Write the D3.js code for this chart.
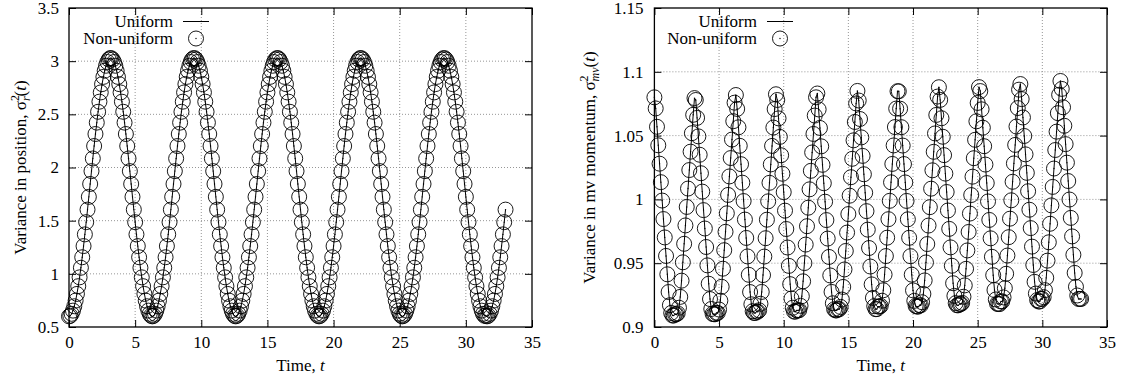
<!DOCTYPE html>
<html><head><meta charset="utf-8">
<script src="https://cdn.jsdelivr.net/npm/d3@7"></script>
<style>
html,body{margin:0;padding:0;background:#fff;}
svg, svg text{font-family:'Liberation Serif','DejaVu Serif',serif;}
</style></head><body>
<svg id="chart" width="1123" height="388"></svg>
<script>
// sampling grid of the simulation output (time step 0.1, t = 0 .. 33)
const timeStep = 0.1;
const nSamples = 331;
const time = d3.range(nSamples).map(i => +(i * timeStep).toFixed(1));

const xTicks = [0, 5, 10, 15, 20, 25, 30, 35];
const posTicks = [0.5, 1, 1.5, 2, 2.5, 3, 3.5];
const momTicks = [0.9, 0.95, 1, 1.05, 1.1, 1.15];
const seriesNames = ["Uniform", "Non-uniform"];

// Variance in position
const posUniform = [
0.600,0.606,0.624,0.654,0.695,0.748,0.811,0.884,0.967,1.057,1.156,1.261,1.371,1.486,1.604,1.724,1.845,1.966,2.085,2.202,2.315,2.422,2.524,2.619,2.706,2.784,2.852,2.910,2.957,2.992,3.016,3.028,3.028,3.016,2.992,2.957,2.910,2.852,2.784,2.706,2.619,2.524,2.422,2.315,2.202,2.085,1.966,1.845,1.724,1.604,1.486,1.371,1.261,1.156,1.057,0.967,0.884,0.811,0.748,0.695,0.654,0.624,0.606,
0.600,0.606,0.624,0.654,0.695,0.748,0.811,0.884,0.967,1.057,1.156,1.261,1.371,1.486,1.604,1.724,1.845,1.966,2.085,2.202,2.315,2.422,2.524,2.619,2.706,2.784,2.852,2.910,2.957,2.992,3.016,3.028,3.028,3.016,2.992,2.957,2.910,2.852,2.784,2.706,2.619,2.524,2.422,2.315,2.202,2.085,1.966,1.845,1.724,1.604,1.486,1.371,1.261,1.156,1.057,0.967,0.884,0.811,0.748,0.695,0.654,0.624,0.606,
0.600,0.606,0.624,0.654,0.695,0.748,0.811,0.884,0.967,1.057,1.156,1.261,1.371,1.486,1.604,1.724,1.845,1.966,2.085,2.202,2.315,2.422,2.524,2.619,2.706,2.784,2.852,2.910,2.957,2.992,3.016,3.028,3.028,3.016,2.992,2.957,2.910,2.852,2.784,2.706,2.619,2.524,2.422,2.315,2.202,2.085,1.966,1.845,1.724,1.604,1.486,1.371,1.261,1.156,1.057,0.967,0.884,0.811,0.748,0.695,0.654,0.624,0.606,
0.600,0.606,0.624,0.654,0.695,0.748,0.811,0.884,0.967,1.057,1.156,1.261,1.371,1.486,1.604,1.724,1.845,1.966,2.085,2.202,2.315,2.422,2.524,2.619,2.706,2.784,2.852,2.910,2.957,2.992,3.016,3.028,3.028,3.016,2.992,2.957,2.910,2.852,2.784,2.706,2.619,2.524,2.422,2.315,2.202,2.085,1.966,1.845,1.724,1.604,1.486,1.371,1.261,1.156,1.057,0.967,0.884,0.811,0.748,0.695,0.654,0.624,0.606,
0.600,0.606,0.624,0.654,0.695,0.748,0.811,0.884,0.967,1.057,1.156,1.261,1.371,1.486,1.604,1.724,1.845,1.966,2.085,2.202,2.315,2.422,2.524,2.619,2.706,2.784,2.852,2.910,2.957,2.992,3.016,3.028,3.028,3.016,2.992,2.957,2.910,2.852,2.784,2.706,2.619,2.524,2.422,2.315,2.202,2.085,1.966,1.845,1.724,1.604,1.486,1.371,1.261,1.156,1.057,0.967,0.884,0.811,0.748,0.695,0.654,0.624,0.606,
0.606,0.600,0.606,0.624,0.654,0.695,0.748,0.811,0.884,0.967,1.057,1.156,1.261,1.371,1.486,1.604
];
const posNonUniform = posUniform.slice();

// Variance in mv momentum
const momUniform = [
1.0800,1.0713,1.0569,1.0424,1.0280,1.0135,0.9991,0.9846,0.9702,0.9557,0.9413,0.9274,0.9171,0.9110,0.9090,0.9090,
0.9100,0.9100,0.9107,0.9151,0.9236,0.9363,0.9507,0.9652,0.9796,0.9941,1.0085,1.0230,1.0374,1.0519,1.0663,1.0794,
1.0779,1.0639,1.0494,1.0350,1.0205,1.0061,0.9916,0.9772,0.9627,0.9483,0.9339,0.9219,0.9141,0.9103,0.9100,0.9100,
0.9110,0.9110,0.9137,0.9206,0.9315,0.9457,0.9602,0.9746,0.9891,1.0035,1.0180,1.0324,1.0469,1.0613,1.0758,
1.0818,1.0709,1.0565,1.0420,1.0276,1.0131,0.9987,0.9842,0.9698,0.9553,0.9409,0.9274,0.9178,0.9124,0.9110,0.9110,
0.9120,0.9120,0.9131,0.9182,0.9275,0.9407,0.9552,0.9696,0.9841,0.9985,1.0130,1.0274,1.0419,1.0563,1.0708,1.0824,
1.0779,1.0635,1.0490,1.0346,1.0201,1.0057,0.9912,0.9768,0.9623,0.9479,0.9336,0.9223,0.9151,0.9121,0.9120,
0.9130,0.9130,0.9132,0.9166,0.9241,0.9358,0.9501,0.9646,0.9790,0.9935,1.0079,1.0224,1.0368,1.0513,1.0657,1.0800,
1.0830,1.0705,1.0560,1.0416,1.0271,1.0127,0.9982,0.9838,0.9693,0.9549,0.9404,0.9275,0.9186,0.9139,0.9130,0.9130,
0.9140,0.9140,0.9157,0.9215,0.9314,0.9451,0.9596,0.9740,0.9885,1.0029,1.0174,1.0318,1.0463,1.0607,1.0752,1.0850,
1.0775,1.0630,1.0486,1.0341,1.0197,1.0052,0.9908,0.9763,0.9619,0.9474,0.9334,0.9228,0.9163,0.9140,0.9140,
0.9160,0.9160,0.9165,0.9206,0.9288,0.9411,0.9556,0.9700,0.9845,0.9989,1.0134,1.0278,1.0423,1.0567,1.0712,1.0848,
1.0847,1.0711,1.0566,1.0422,1.0277,1.0133,0.9988,0.9844,0.9699,0.9555,0.9410,0.9287,0.9205,0.9165,0.9160,0.9160,
0.9170,0.9170,0.9194,0.9259,0.9365,0.9506,0.9650,0.9795,0.9939,1.0084,1.0228,1.0373,1.0517,1.0662,1.0806,
1.0879,1.0780,1.0636,1.0491,1.0347,1.0202,1.0058,0.9913,0.9769,0.9624,0.9480,0.9343,0.9244,0.9187,0.9170,0.9170,
0.9180,0.9180,0.9189,0.9237,0.9326,0.9456,0.9600,0.9745,0.9889,1.0034,1.0178,1.0323,1.0467,1.0612,1.0756,1.0880,
1.0849,1.0706,1.0562,1.0417,1.0273,1.0128,0.9984,0.9839,0.9695,0.9550,0.9406,0.9290,0.9216,0.9182,0.9180,0.9180,
0.9200,0.9201,0.9232,0.9304,0.9417,0.9560,0.9704,0.9849,0.9993,1.0138,1.0282,1.0427,1.0571,1.0716,1.0860,
1.0904,1.0786,1.0642,1.0497,1.0353,1.0208,1.0064,0.9919,0.9775,0.9630,0.9486,0.9354,0.9262,0.9211,0.9200,0.9200,
0.9220,0.9220,0.9234,0.9289,0.9385,0.9520,0.9664,0.9809,0.9953,1.0098,1.0242,1.0387,1.0531,1.0676,1.0820,1.0928,
1.0866,1.0722,1.0577,1.0433,1.0288,1.0144,0.9999,0.9855,0.9710,0.9566,0.9424,0.9315,0.9247,0.9220,0.9220,0.9220
];
const momNonUniform = momUniform.slice();

const FONT = "'Liberation Serif', 'DejaVu Serif', serif";
const FS = 17;
const svg = d3.select("#chart").style("font-family", FONT);
svg.append("rect").attr("width", 1123).attr("height", 388).attr("fill", "#fff");

function drawPanel(cfg) {
  const x = d3.scaleLinear().domain([0, 35]).range([cfg.left, cfg.right]);
  const y = d3.scaleLinear().domain(cfg.yDomain).range([cfg.bottom, cfg.top]);
  const g = svg.append("g");

  // grid
  const grid = g.append("g").attr("stroke", "#8a8a8a").attr("stroke-width", 0.9).attr("stroke-dasharray", "1,2");
  grid.selectAll("line.gx").data(xTicks.filter(d => d > 0 && d < 35)).join("line").attr("class", "gx")
    .attr("x1", d => x(d)).attr("x2", d => x(d)).attr("y1", cfg.top).attr("y2", cfg.bottom);
  grid.selectAll("line.gy").data(cfg.yTicks.slice(1, -1)).join("line").attr("class", "gy")
    .attr("y1", d => y(d)).attr("y2", d => y(d)).attr("x1", cfg.left).attr("x2", cfg.right);

  const fmt = d => String(d);
  const styleAxis = sel => sel.attr("font-family", null).attr("font-size", null)
    .style("font-family", FONT).style("font-size", FS + "px")
    .call(s => s.select(".domain").remove())
    .call(s => s.selectAll("text").attr("fill", "#000").style("font-family", FONT))
    .call(s => s.selectAll("line").attr("stroke", "#000").attr("stroke-width", 1));

  g.append("g").attr("transform", `translate(0,${cfg.bottom})`)
    .call(d3.axisBottom(x).tickValues(xTicks).tickFormat(fmt).tickSizeInner(-7).tickSizeOuter(0).tickPadding(9))
    .call(styleAxis);
  g.append("g").attr("transform", `translate(0,${cfg.top})`)
    .call(d3.axisTop(x).tickValues(xTicks).tickFormat("").tickSizeInner(-7).tickSizeOuter(0))
    .call(styleAxis);
  g.append("g").attr("transform", `translate(${cfg.left},0)`)
    .call(d3.axisLeft(y).tickValues(cfg.yTicks).tickFormat(fmt).tickSizeInner(-7).tickSizeOuter(0).tickPadding(cfg.yPad))
    .call(styleAxis);
  g.append("g").attr("transform", `translate(${cfg.right},0)`)
    .call(d3.axisRight(y).tickValues(cfg.yTicks).tickFormat("").tickSizeInner(-7).tickSizeOuter(0))
    .call(styleAxis);

  // frame
  g.append("rect").attr("x", cfg.left).attr("y", cfg.top)
    .attr("width", cfg.right - cfg.left).attr("height", cfg.bottom - cfg.top)
    .attr("fill", "none").attr("stroke", "#000").attr("stroke-width", 1.3);

  // Uniform: line
  const line = d3.line().x((d, i) => x(time[i])).y(d => y(d));
  g.append("path").datum(cfg.uniform).attr("d", line)
    .attr("fill", "none").attr("stroke", "#000").attr("stroke-width", 1);

  // Non-uniform: open circles with centre dot
  const pts = g.append("g");
  pts.selectAll("circle.pt").data(cfg.nonUniform).join("circle").attr("class", "pt")
    .attr("cx", (d, i) => x(time[i])).attr("cy", d => y(d)).attr("r", 7.5)
    .attr("fill", "none").attr("stroke", "#000").attr("stroke-width", 0.9);
  pts.selectAll("circle.dot").data(cfg.nonUniform).join("circle").attr("class", "dot")
    .attr("cx", (d, i) => x(time[i])).attr("cy", d => y(d)).attr("r", 0.7).attr("fill", "#000");

  // legend
  const lg = g.append("g").style("font-family", FONT).style("font-size", FS + "px");
  lg.append("text").attr("x", cfg.legX).attr("y", 27).attr("text-anchor", "end").text(seriesNames[0]);
  lg.append("line").attr("x1", cfg.legX + 10).attr("x2", cfg.legX + 36).attr("y1", 21.5).attr("y2", 21.5)
    .attr("stroke", "#000").attr("stroke-width", 1);
  lg.append("text").attr("x", cfg.legX).attr("y", 44).attr("text-anchor", "end").text(seriesNames[1]);
  lg.append("circle").attr("cx", cfg.legX + 23).attr("cy", 38.5).attr("r", 7.5)
    .attr("fill", "none").attr("stroke", "#000").attr("stroke-width", 0.9);
  lg.append("circle").attr("cx", cfg.legX + 23).attr("cy", 38.5).attr("r", 0.7).attr("fill", "#000");

  // x title
  const xt = g.append("text").attr("x", (cfg.left + cfg.right) / 2).attr("y", 371)
    .attr("text-anchor", "middle").style("font-family", FONT).style("font-size", FS + "px");
  xt.append("tspan").text("Time, ");
  xt.append("tspan").attr("font-style", "italic").text("t");

  // y title
  const yt = g.append("text").attr("transform", `translate(${cfg.yTitleX},${(cfg.top + cfg.bottom) / 2}) rotate(-90)`)
    .attr("text-anchor", "middle").style("font-family", FONT).style("font-size", FS + "px");
  yt.append("tspan").text(cfg.yTitle + "σ");
  yt.append("tspan").style("font-size", "12px").attr("dy", -7).text("2");
  yt.append("tspan").style("font-size", "12px").attr("font-style", "italic").attr("dx", -6).attr("dy", 11).text(cfg.ySub);
  yt.append("tspan").attr("dy", -4).text("(");
  yt.append("tspan").attr("font-style", "italic").text("t");
  yt.append("tspan").text(")");
}

drawPanel({
  left: 69, right: 532, top: 8, bottom: 327,
  yDomain: [0.5, 3.5], yTicks: posTicks, yPad: 10,
  uniform: posUniform, nonUniform: posNonUniform,
  legX: 173, yTitleX: 26,
  yTitle: "Variance in position, ", ySub: "r"
});
drawPanel({
  left: 654.4, right: 1107, top: 8, bottom: 327,
  yDomain: [0.9, 1.15], yTicks: momTicks, yPad: 11,
  uniform: momUniform, nonUniform: momNonUniform,
  legX: 757, yTitleX: 595,
  yTitle: "Variance in mv momentum, ", ySub: "mv"
});
</script>
</body></html>
